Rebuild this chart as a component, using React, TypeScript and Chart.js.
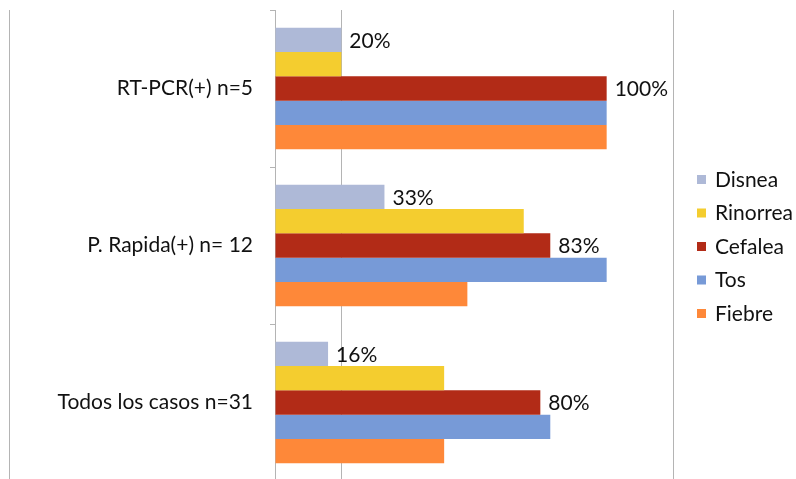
import React, { useEffect, useRef } from "react";
import { Chart, registerables } from "chart.js";

Chart.register(...registerables);

const categories = ["RT-PCR(+) n=5", "P. Rapida(+) n= 12", "Todos los casos n=31"];
const seriesNames = ["Disnea", "Rinorrea", "Cefalea", "Tos", "Fiebre"];
const seriesColors = ["#AEB9D7", "#F4CD2F", "#B22B17", "#779AD7", "#FE8839"];
const disnea = [20, 33, 16];
const rinorrea = [20, 75, 51];
const cefalea = [100, 83, 80];
const tos = [100, 100, 83];
const fiebre = [100, 58, 51];
const labelledSeries = [0, 2];
const gridValues = [0, 20, 120];

const FONT = "Lato, 'Open Sans', sans-serif";
const FONT_SIZE = 21;
const LINE = "#B4B4B4";

// value labels beside Disnea and Cefalea bars, frame line and legend
const decorations = {
  id: "decorations",
  afterDatasetsDraw(chart: any) {
    const ctx = chart.ctx;
    ctx.save();
    ctx.font = `${FONT_SIZE}px ${FONT}`;
    ctx.fillStyle = "#111";
    ctx.textAlign = "left";
    ctx.textBaseline = "middle";
    labelledSeries.forEach((di) => {
      const meta = chart.getDatasetMeta(di);
      meta.data.forEach((bar: any, j: number) => {
        const v = chart.data.datasets[di].data[j];
        ctx.fillText(`${v}%`, bar.x + 8, bar.y + 1);
      });
    });
    ctx.restore();
  },
  afterDraw(chart: any) {
    const ctx = chart.ctx;
    const area = chart.chartArea;
    ctx.save();
    // left frame line
    ctx.strokeStyle = LINE;
    ctx.lineWidth = 1;
    ctx.beginPath();
    ctx.moveTo(9.5, area.top);
    ctx.lineTo(9.5, chart.height);
    ctx.stroke();
    // legend
    const x0 = 697;
    const y0 = 179;
    const step = 33.5;
    ctx.font = `${FONT_SIZE}px ${FONT}`;
    ctx.textAlign = "left";
    ctx.textBaseline = "middle";
    seriesNames.forEach((name, i) => {
      const y = y0 + i * step;
      ctx.fillStyle = seriesColors[i];
      ctx.fillRect(x0, y - 4, 9, 9);
      ctx.fillStyle = "#111";
      ctx.fillText(name, x0 + 18, y + 1);
    });
    ctx.restore();
  },
};

export default function App() {
  const ref = useRef<HTMLCanvasElement | null>(null);

  useEffect(() => {
    document.body.style.margin = "0";
    const seriesData = [disnea, rinorrea, cefalea, tos, fiebre];
    const chart = new Chart(ref.current as HTMLCanvasElement, {
      type: "bar",
      data: {
        labels: categories,
        datasets: seriesNames.map((name, i) => ({
          label: name,
          data: seriesData[i],
          backgroundColor: seriesColors[i],
          borderWidth: 0,
          categoryPercentage: 0.775,
          barPercentage: 1.0,
        })),
      },
      options: {
        indexAxis: "y",
        responsive: false,
        animation: false,
        layout: { padding: { left: 0, top: 10, right: 123, bottom: 0 } },
        plugins: {
          legend: { display: false },
          tooltip: { enabled: false },
        },
        scales: {
          x: {
            min: 0,
            max: 120,
            afterBuildTicks(scale: any) {
              scale.ticks = gridValues.map((v) => ({ value: v }));
            },
            afterFit(scale: any) {
              scale.height = 0;
              scale.paddingLeft = 0;
              scale.paddingRight = 0;
            },
            ticks: { display: false },
            grid: { color: LINE, lineWidth: 1, drawTicks: false },
            border: { display: false },
          },
          y: {
            afterFit(scale: any) {
              scale.width = 275;
              scale.paddingTop = 0;
              scale.paddingBottom = 0;
            },
            ticks: {
              color: "#111",
              font: { family: FONT, size: FONT_SIZE },
              padding: 17,
            },
            grid: {
              offset: true,
              drawOnChartArea: false,
              drawTicks: true,
              tickLength: 5,
              color: LINE,
            },
            border: { display: true, color: LINE },
          },
        },
      },
      plugins: [decorations],
    });
    return () => chart.destroy();
  }, []);

  return (
    <div style={{ position: "fixed", left: 0, top: 0, width: 796, height: 479, overflow: "hidden", background: "#fff" }}>
      <canvas ref={ref} width={796} height={481} style={{ display: "block" }} />
    </div>
  );
}
